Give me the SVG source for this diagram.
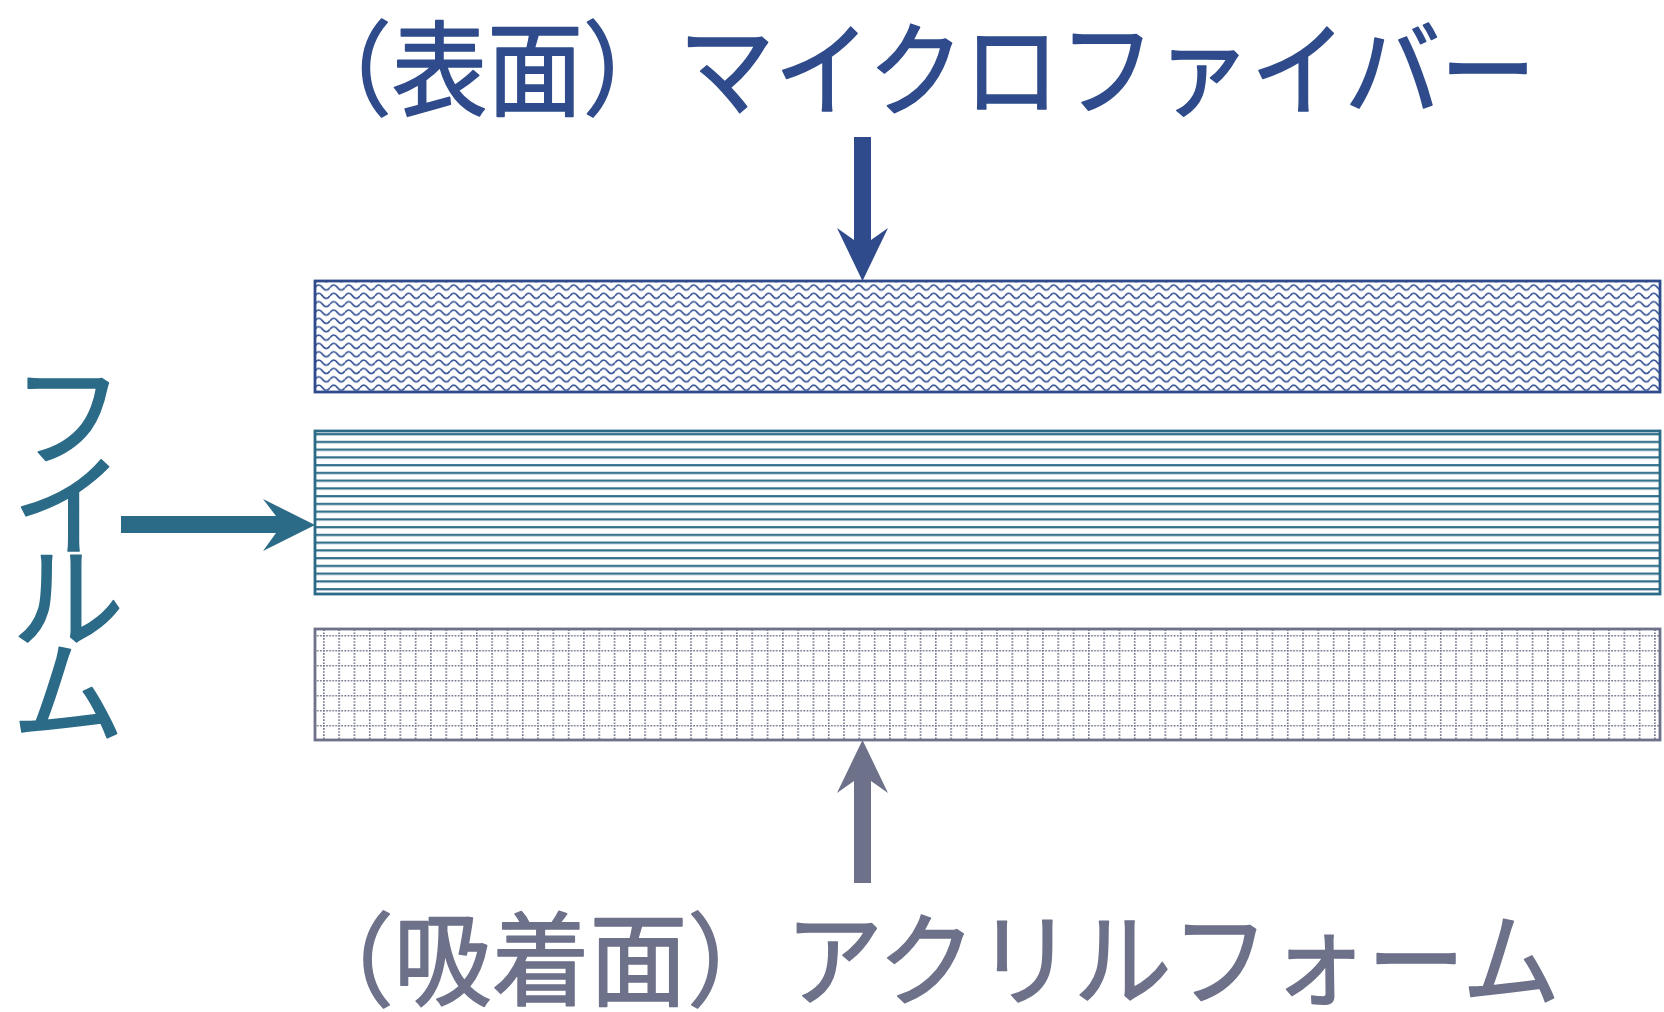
<svg xmlns="http://www.w3.org/2000/svg" width="1664" height="1012" viewBox="0 0 1664 1012">
<style>
.jp{font-family:"Noto Sans CJK JP","Noto Sans CJK SC",sans-serif;stroke-width:1.6;stroke-linejoin:round;}
.blue{fill:#2F4B8B;}
.teal{fill:#2C6B87;}
.gray{fill:#6D7189;}
text.blue{stroke:#2F4B8B;}
text.teal{stroke:#2C6B87;}
text.gray{stroke:#6D7189;}
</style>
<defs>
<pattern id="wave" patternUnits="userSpaceOnUse" x="315" y="283" width="15" height="8.35">
<path d="M0 4.5 Q3.75 -0.5 7.5 4.5 T15 4.5" fill="none" stroke="#3A5698" stroke-width="1.7"/>
</pattern>
<pattern id="hlines" patternUnits="userSpaceOnUse" x="0" y="433" width="20" height="7.75">
<line x1="0" y1="1.2" x2="20" y2="1.2" stroke="#2C6B87" stroke-width="2.2"/>
</pattern>
<pattern id="grid" patternUnits="userSpaceOnUse" x="323" y="635" width="15.3" height="15">
<line x1="0" y1="0.8" x2="15.3" y2="0.8" stroke="#6D7189" stroke-width="1.6" stroke-dasharray="1.6 1.5"/>
<line x1="0.8" y1="0" x2="0.8" y2="15" stroke="#6D7189" stroke-width="1.6" stroke-dasharray="1.6 1.5"/>
</pattern>
</defs>
<rect width="1664" height="1012" fill="#FFFFFF"/>

<g id="microfiber-layer">
<rect x="315" y="281" width="1345" height="111" fill="url(#wave)" stroke="#2F4B8B" stroke-width="2.8"/>
</g>
<g id="film-layer">
<rect x="315" y="431" width="1345" height="163" fill="url(#hlines)" stroke="#2C6B87" stroke-width="2.8"/>
</g>
<g id="acrylic-foam-layer">
<rect x="315" y="629" width="1345" height="111" fill="url(#grid)" stroke="#6D7189" stroke-width="2.8"/>
</g>

<g id="label-microfiber">
<text class="jp blue" x="296" y="108" font-size="103" textLength="1240" lengthAdjust="spacingAndGlyphs">（表面）マイクロファイバー</text>
</g>
<g id="label-film">
<text class="jp teal" font-size="112" text-anchor="middle" x="68 68 68 68" y="458 548 640 734">フイルム</text>
</g>
<g id="label-foam">
<text class="jp gray" x="296" y="998" font-size="102" textLength="1264" lengthAdjust="spacingAndGlyphs">（吸着面）アクリルフォーム</text>
</g>

<g id="connectors">
<polygon class="blue" points="854,137 871,137 871,240 888,228 862.5,281 837,228 854,240"/>
<polygon class="teal" points="121,516 276,516 263,499 315,525 263,551 276,533 121,533"/>
<polygon class="gray" points="854,883 871,883 871,781 888,793 862.5,740 837,793 854,781"/>
</g>
</svg>
